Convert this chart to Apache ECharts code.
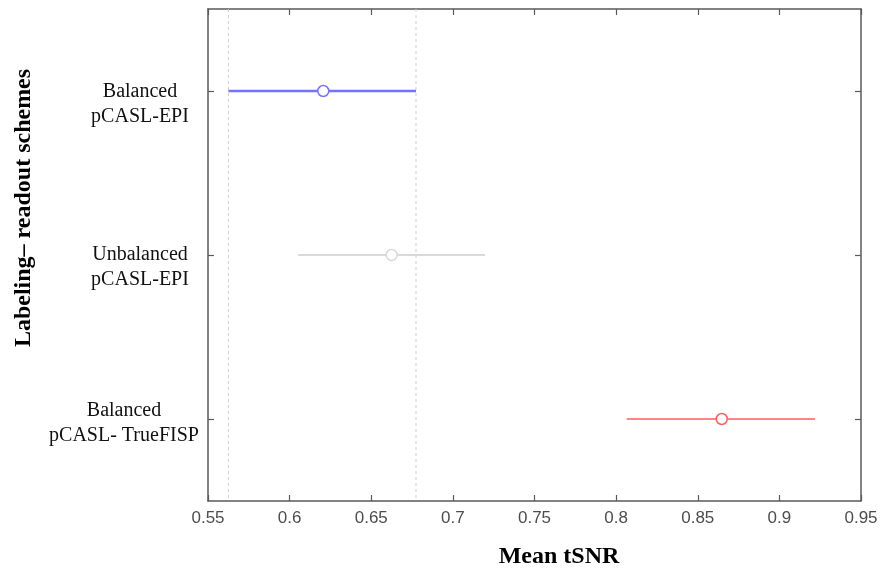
<!DOCTYPE html>
<html>
<head>
<meta charset="utf-8">
<script src="https://cdn.jsdelivr.net/npm/echarts@6/dist/echarts.min.js"></script>
<style>
html,body{margin:0;padding:0;background:#fff;}
#chart{width:881px;height:571px;}
</style>
</head>
<body>
<div id="chart"></div>
<script>
// ---- data ----
var categories = ['Balanced\npCASL-EPI', 'Unbalanced\npCASL-EPI', 'Balanced\npCASL- TrueFISP'];
var meanTSNR = [0.6206, 0.6625, 0.8647];
var lowerCI = [0.5625, 0.6053, 0.8065];
var upperCI = [0.6774, 0.7197, 0.9218];
var refLines = [0.5625, 0.6774];
var xTicks = [0.55, 0.6, 0.65, 0.7, 0.75, 0.8, 0.85, 0.9, 0.95];
var xTitle = 'Mean tSNR';
var yTitle = 'Labeling\u2013 readout schemes';

// ---- styling ----
var colors = ['#7373ff', '#d9d9d9', '#ff5c5c'];
var lineWidths = [2.5, 2, 1.5];
var axisColor = '#5a5a5a';
var labelFont = 'Liberation Serif, Times New Roman, serif';
var spacerHeights = [27, 24, 9];
var labelRightPad = [0, 0, 32];

var chart = echarts.init(document.getElementById('chart'));

var barData = categories.map(function (c, i) {
  return [lowerCI[i], upperCI[i], meanTSNR[i], i];
});

var rich = {};
categories.forEach(function (c, i) {
  rich['sp' + i] = { fontSize: 2, lineHeight: spacerHeights[i], color: 'transparent' };
  rich['t' + i] = {
    color: '#111', fontFamily: labelFont, fontSize: 20, lineHeight: 25,
    padding: [0, labelRightPad[i], 0, 0]
  };
});

var option = {
  animation: false,
  backgroundColor: '#fff',
  grid: { left: 208, right: 20, top: 9, bottom: 70 },
  xAxis: [{
    type: 'value',
    min: xTicks[0],
    max: xTicks[xTicks.length - 1],
    interval: 0.05,
    position: 'bottom',
    axisLine: { show: true, lineStyle: { color: axisColor, width: 1.5 } },
    axisTick: { show: true, inside: true, length: 6, lineStyle: { color: axisColor, width: 1.2 } },
    axisLabel: {
      margin: 9,
      color: '#4d4d4d',
      fontFamily: 'Liberation Sans, Arial, sans-serif',
      fontSize: 17,
      formatter: function (v) { return String(+v.toFixed(2)); }
    },
    splitLine: { show: false }
  }, {
    type: 'value',
    min: xTicks[0],
    max: xTicks[xTicks.length - 1],
    interval: 0.05,
    position: 'top',
    axisLine: { show: true, lineStyle: { color: axisColor, width: 1.5 } },
    axisTick: { show: true, inside: true, length: 6, lineStyle: { color: axisColor, width: 1.2 } },
    axisLabel: { show: false },
    splitLine: { show: false }
  }],
  yAxis: [{
    type: 'category',
    data: categories,
    inverse: true,
    position: 'left',
    boundaryGap: true,
    axisLine: { show: true, lineStyle: { color: axisColor, width: 1.5 } },
    axisTick: { show: true, inside: true, length: 6, alignWithLabel: true, lineStyle: { color: axisColor, width: 1.2 } },
    axisLabel: {
      margin: 68,
      align: 'center',
      formatter: function (v, i) {
        return '{sp' + i + '| }\n' + v.split('\n').map(function (s) {
          return '{t' + i + '|' + s + '}';
        }).join('\n');
      },
      rich: rich
    },
    splitLine: { show: false }
  }, {
    type: 'category',
    data: categories,
    inverse: true,
    position: 'right',
    boundaryGap: true,
    axisLine: { show: true, lineStyle: { color: axisColor, width: 1.5 } },
    axisTick: { show: true, inside: true, length: 6, alignWithLabel: true, lineStyle: { color: axisColor, width: 1.2 } },
    axisLabel: { show: false },
    splitLine: { show: false }
  }],
  graphic: [{
    type: 'text',
    x: 559,
    y: 557,
    style: {
      text: xTitle,
      align: 'center',
      verticalAlign: 'middle',
      fill: '#000',
      font: 'bold 24px "Liberation Serif", "Times New Roman", serif'
    }
  }, {
    type: 'text',
    x: 24,
    y: 208,
    rotation: Math.PI / 2,
    style: {
      text: yTitle,
      align: 'center',
      verticalAlign: 'middle',
      fill: '#000',
      font: 'bold 24px "Liberation Serif", "Times New Roman", serif'
    }
  }],
  series: [{
    type: 'custom',
    data: refLines.map(function (v) { return [v]; }),
    encode: { x: 0 },
    silent: true,
    z: 1,
    renderItem: function (params, api) {
      var cs = params.coordSys;
      var x = api.coord([api.value(0), 0])[0];
      return {
        type: 'line',
        shape: { x1: x, y1: cs.y, x2: x, y2: cs.y + cs.height },
        style: { stroke: '#cfcfcf', lineWidth: 1, lineDash: [3, 3] }
      };
    }
  }, {
    type: 'custom',
    data: barData,
    encode: { x: [0, 1, 2], y: 3 },
    z: 2,
    renderItem: function (params, api) {
      var i = api.value(3);
      var y = api.coord([0, i])[1];
      var p1 = api.coord([api.value(0), i]);
      var p2 = api.coord([api.value(1), i]);
      var pm = api.coord([api.value(2), i]);
      return {
        type: 'group',
        children: [{
          type: 'line',
          shape: { x1: p1[0], y1: y, x2: p2[0], y2: y },
          style: { stroke: colors[i], lineWidth: lineWidths[i] }
        }, {
          type: 'circle',
          shape: { cx: pm[0], cy: y, r: 5.5 },
          style: { fill: '#fff', stroke: colors[i], lineWidth: 1.5 }
        }]
      };
    }
  }]
};
chart.setOption(option);
</script>
</body>
</html>
